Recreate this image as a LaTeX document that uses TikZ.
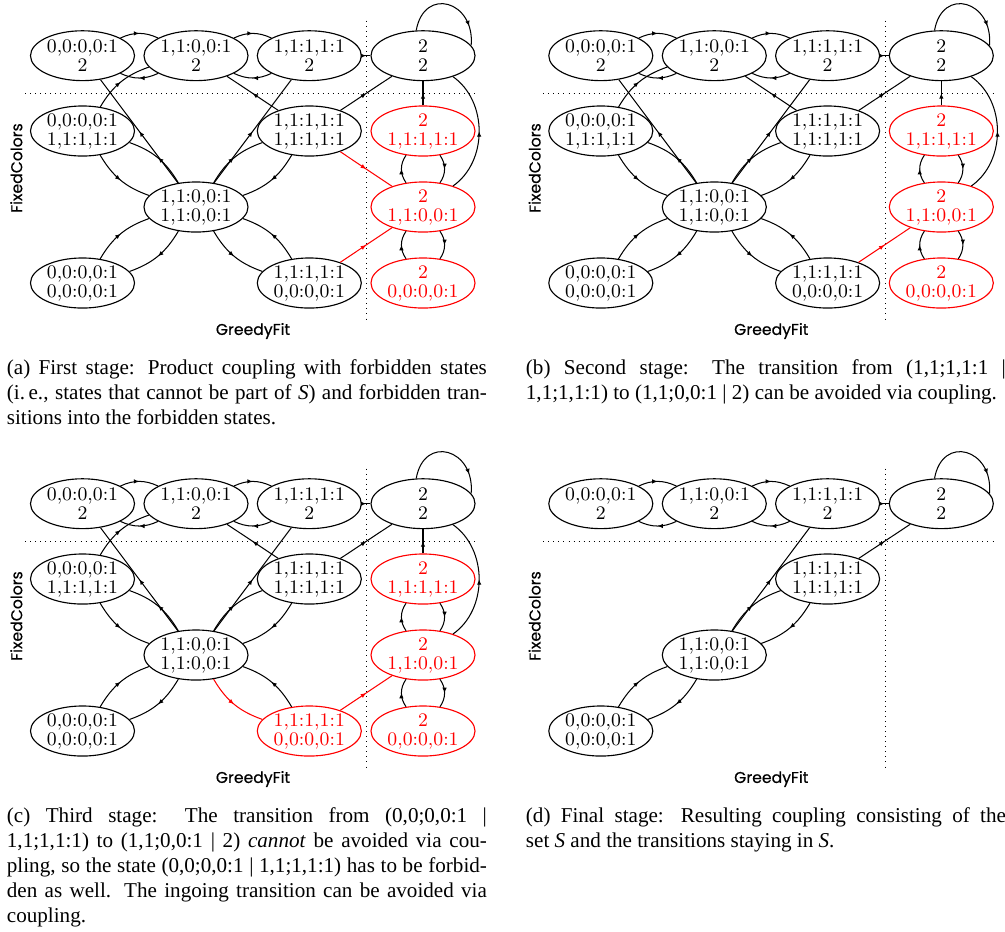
\documentclass[tikz,border=0pt]{standalone}
\usepackage{fontspec}
\usetikzlibrary{shapes.geometric,decorations.markings,arrows.meta}
\newfontfamily\capfont{Liberation Serif}
\newfontfamily\labfont{Poppins}[FakeBold=0.5]
\newcommand{\capsize}{\capfont\fontsize{10.25}{12.1}\selectfont}

\tikzset{
  st/.style={ellipse, draw, line width=0.55pt, minimum width=50.5pt, minimum height=24.2pt,
    inner sep=0pt, align=center, font=\fontsize{9.3}{9.2}\selectfont},
  bad/.style={st, draw=red, text=red},
  tr/.style={line width=0.5pt, postaction={decorate},
    decoration={markings, mark=at position #1 with {\arrow{Latex[length=2.6pt,width=2.2pt]}}}},
  tr/.default=0.5,
  badtr/.style={tr, red},
  sep/.style={dotted, line width=0.45pt},
  axis/.style={inner sep=0pt, font=\labfont\fontsize{7.6}{9}\selectfont},
  captext/.style={anchor=base west, inner sep=0pt}
}

\newcommand{\panelbase}[1]{%
  \draw[sep] (366.7,-20.7) -- (366.7,-320);
  \draw[sep] (25,-93.3) -- (478,-93.3);
  \node[axis, rotate=90] (#1fc) at (16.3,-168) {FixedColors};
  \node[axis] (#1gf) at (253,-331) {GreedyFit};
  \node[st] (#1A1) at (82.5,-55.7) {0,0:0,0:1\\2};
  \node[st] (#1A2) at (196,-55.7) {1,1:0,0:1\\2};
  \node[st] (#1A3) at (309.3,-55.7) {1,1:1,1:1\\2};
  \node[st] (#1A4) at (423,-55.7) {2\\2};
  \node[st] (#1B3) at (309.3,-131) {1,1:1,1:1\\1,1:1,1:1};
  \node[st] (#1C2) at (196,-207) {1,1:0,0:1\\1,1:0,0:1};
  \node[st] (#1D1) at (82.5,-283) {0,0:0,0:1\\0,0:0,0:1};
  \draw[tr] (#1A1) to[bend left=25] (#1A2);
  \draw[tr] (#1A2) to[bend left=25] (#1A1);
  \draw[tr] (#1A2) to[bend left=25] (#1A3);
  \draw[tr] (#1A3) to[bend left=25] (#1A2);
  \draw[tr] (#1A3) -- (#1A4);
  \draw[tr=0.8] (#1A4.105) .. controls +(80:45) and +(85:45) .. (#1A4.12);
  \draw[tr] (#1C2) -- (#1A3);
  \draw[tr] (#1C2) to[bend left=20] (#1B3);
  \draw[tr] (#1B3) to[bend left=20] (#1C2);
  \draw[tr] (#1B3) -- (#1A4);
  \draw[tr] (#1D1) to[bend left=20] (#1C2);
  \draw[tr] (#1C2) to[bend left=20] (#1D1);
}

\newcommand{\panelextra}[3]{%
  \node[st] (#1B1) at (82.5,-131) {0,0:0,0:1\\1,1:1,1:1};
  \node[bad] (#1B4) at (423,-131) {2\\1,1:1,1:1};
  \node[bad] (#1C4) at (423,-207) {2\\1,1:0,0:1};
  \node[#2] (#1D3) at (309.3,-283) {1,1:1,1:1\\0,0:0,0:1};
  \node[bad] (#1D4) at (423,-283) {2\\0,0:0,0:1};
  \draw[tr] (#1C2) -- (#1A1);
  \draw[tr] (#1B1) to[bend left=20] (#1A2);
  \draw[tr] (#1B3) -- (#1A2);
  \draw[tr] (#1B1) to[bend right=20] (#1C2);
  \draw[tr] (#1C2) to[bend right=20] (#1B1);
  \draw[#3] (#1C2) to[bend right=20] (#1D3);
  \draw[tr] (#1D3) to[bend right=20] (#1C2);
  \draw[tr] (#1B4) -- (#1A4);
  \draw[tr] (#1C4) to[out=35,in=-35] (#1A4);
  \draw[tr] (#1B4) to[bend left=35] (#1C4);
  \draw[tr] (#1C4) to[bend left=35] (#1B4);
  \draw[tr] (#1C4) to[bend left=35] (#1D4);
  \draw[tr] (#1D4) to[bend left=35] (#1C4);
  \draw[badtr] (#1D3) -- (#1C4);
}

\begin{document}
\begin{tikzpicture}[x=0.4854pt,y=0.4854pt]
\useasboundingbox (0,0) rectangle (1005,-931);

\begin{scope}
  \panelbase{a}
  \panelextra{a}{st}{tr}
  \draw[badtr] (aB3) -- (aC4);
\end{scope}

\begin{scope}[shift={(518.3,0)}]
  \panelbase{b}
  \panelextra{b}{st}{tr}
\end{scope}

\begin{scope}[shift={(0,-448)}]
  \panelbase{c}
  \panelextra{c}{bad}{badtr}
\end{scope}

\begin{scope}[shift={(518.3,-448)}]
  \panelbase{d}
\end{scope}

\node[captext] (capa) at (6.5,-374.5) {\parbox[t]{233pt}{\capsize
\makebox[\linewidth][s]{(a) First stage: Product coupling with forbidden states}\par
\makebox[\linewidth][s]{(i.\,e., states that cannot be part of \textit{S}) and forbidden tran-}\par
sitions into the forbidden states.}};

\node[captext] (capb) at (525.5,-374.5) {\parbox[t]{233pt}{\capsize
\makebox[\linewidth][s]{(b) Second stage: The transition from (1,1;1,1:1 |}\par
1,1;1,1:1) to (1,1;0,0:1 | 2) can be avoided via coupling.}};

\node[captext] (capc) at (6.5,-822.5) {\parbox[t]{233pt}{\capsize
\makebox[\linewidth][s]{(c) Third stage: The transition from (0,0;0,0:1 |}\par
\makebox[\linewidth][s]{1,1;1,1:1) to (1,1;0,0:1 | 2) \textit{cannot} be avoided via cou-}\par
\makebox[\linewidth][s]{pling, so the state (0,0;0,0:1 | 1,1;1,1:1) has to be forbid-}\par
\makebox[\linewidth][s]{den as well. The ingoing transition can be avoided via}\par
coupling.}};

\node[captext] (capd) at (525.5,-822.5) {\parbox[t]{233pt}{\capsize
\makebox[\linewidth][s]{(d) Final stage: Resulting coupling consisting of the}\par
set \textit{S} and the transitions staying in \textit{S}.}};

\end{tikzpicture}
\end{document}
